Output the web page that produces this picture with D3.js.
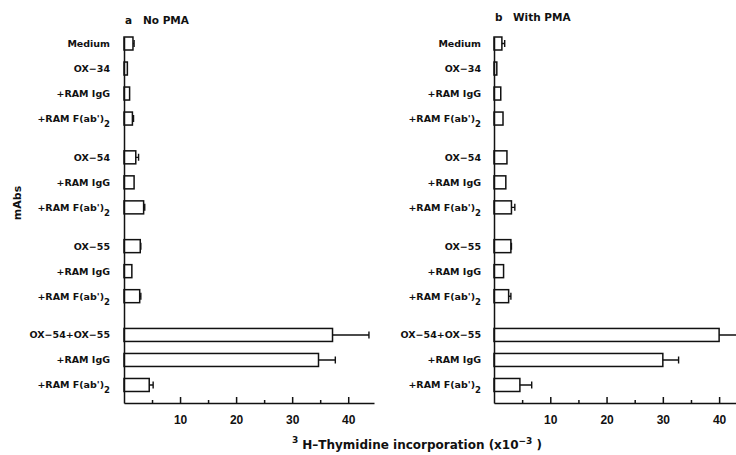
<!DOCTYPE html>
<head>
    <meta charset="utf-8">
    <title>3H-Thymidine incorporation</title>
    <style>
        body { margin: 0; background: #fff; }
        .lbl { font-family: "DejaVu Sans", sans-serif; font-weight: bold; font-size: 9.5px; fill: #111; }
        .tick text { font-family: "Liberation Sans", sans-serif; font-weight: bold; font-size: 12px; fill: #111; }
        .axis path, .axis line { stroke: #111; stroke-width: 1.5; }
        .bar { fill: #fff; stroke: #111; stroke-width: 1.5; }
        .err { stroke: #111; stroke-width: 1.4; fill: none; }
    </style>
</head>
<body>
<div id="chart"></div>

<script src="https://d3js.org/d3.v7.min.js"></script>
<script>

// row labels, "_2" marks a subscript
var labels = ["Medium", "OX\u221234", "+RAM IgG", "+RAM F(ab')_2",
              "OX\u221254", "+RAM IgG", "+RAM F(ab')_2",
              "OX\u221255", "+RAM IgG", "+RAM F(ab')_2",
              "OX\u221254+OX\u221255", "+RAM IgG", "+RAM F(ab')_2"];
var groupSizes = [4, 3, 3, 3];

// panel a, no PMA
var noPMA    = [1.6, 0.6, 1.0, 1.5, 2.1, 1.8, 3.5, 2.9, 1.4, 2.8, 37.2, 34.7, 4.5];
var noPMAErr = [0.2, 0,   0,   0.2, 0.5, 0,   0.2, 0.1, 0,   0.2, 6.5,  3.0,  0.7];

// panel b, with PMA
var withPMA    = [1.4, 0.5, 1.2, 1.6, 2.3, 2.1, 3.1, 3.0, 1.7, 2.6, 40.0, 30.0, 4.6];
var withPMAErr = [0.5, 0,   0,   0,   0,   0,   0.6, 0.1, 0,   0.4, 3.6,  2.8,  2.1];

var majorTicks = [10, 20, 30, 40];
var minorTicks = [5, 15, 25, 35];

var W = 736, H = 455;

var svg = d3.select("#chart").append("svg")
    .attr("width", W)
    .attr("height", H);

// slot position of each row: one row per label, extra gap between groups
var slots = [];
groupSizes.forEach(function(n, g) {
    for (var k = 0; k < n; k++) slots.push(slots.length + 0.55 * g);
});

var yScale = d3.scaleLinear().domain([-0.26, 14.37]).range([37, 403]);
var barH = 13;
var baseY = 403;

function drawPanel(opt) {
    var x = d3.scaleLinear().domain(opt.domain).range(opt.range);
    var g = svg.append("g");

    // title
    var t = g.append("text").attr("class", "lbl")
        .attr("y", opt.titleY).style("font-size", "10.5px");
    t.append("tspan").attr("x", opt.range[0] + 1).text(opt.letter);
    t.append("tspan").attr("x", opt.range[0] + opt.titleGap).text(opt.title);

    // bars
    g.selectAll("rect.bar").data(opt.values).enter().append("rect")
        .attr("class", "bar")
        .attr("x", x(0))
        .attr("y", function(d, i) { return yScale(slots[i]) - barH / 2; })
        .attr("width", function(d) { return x(d) - x(0); })
        .attr("height", barH);

    // error bars
    var errs = opt.values.map(function(v, i) { return {v: v, e: opt.errs[i], i: i}; })
        .filter(function(d) { return d.e > 0; });
    g.selectAll("path.err").data(errs).enter().append("path")
        .attr("class", "err")
        .attr("d", function(d) {
            var y0 = yScale(slots[d.i]), x0 = x(d.v), x1 = x(d.v + d.e);
            return "M" + x0 + "," + y0 + "H" + x1 + "M" + x1 + "," + (y0 - 3.5) + "V" + (y0 + 3.5);
        });

    // row labels
    var lab = g.selectAll("text.row").data(labels).enter().append("text")
        .attr("class", "lbl row")
        .attr("text-anchor", "end")
        .attr("x", opt.labelX)
        .attr("y", function(d, i) { return yScale(slots[i]) + 3.5; });
    lab.each(function(d) {
        var parts = d.split("_");
        var s = d3.select(this);
        s.append("tspan").text(parts[0]);
        if (parts[1]) s.append("tspan").attr("dy", 5).style("font-size", "8.5px").text(parts[1]);
    });

    // vertical axis line
    g.append("g").attr("class", "axis")
        .attr("transform", "translate(" + x(0) + ",0)")
        .call(d3.axisLeft(yScale).tickValues([]).tickSizeOuter(0));

    // bottom axis, ticks point inward
    g.append("g").attr("class", "axis")
        .attr("transform", "translate(0," + baseY + ")")
        .call(d3.axisBottom(x).tickValues(minorTicks).tickSize(-3).tickSizeOuter(0).tickFormat(""));
    g.append("g").attr("class", "axis")
        .attr("transform", "translate(0," + baseY + ")")
        .call(d3.axisBottom(x).tickValues(majorTicks).tickSize(-6).tickSizeOuter(0).tickPadding(12.5).tickFormat(d3.format("d")))
        .call(function(a) { a.select(".domain").remove(); });
}

drawPanel({
    domain: [0, 44.6], range: [124, 374],
    values: noPMA, errs: noPMAErr,
    letter: "a", title: "No PMA", titleGap: 19, titleY: 24,
    labelX: 110
});

drawPanel({
    domain: [0, 43], range: [494, 736],
    values: withPMA, errs: withPMAErr,
    letter: "b", title: "With PMA", titleGap: 19, titleY: 21,
    labelX: 481
});

// y title
svg.append("text").attr("class", "lbl")
    .style("font-size", "11px")
    .attr("transform", "translate(21,203) rotate(-90)")
    .attr("text-anchor", "middle")
    .text("mAbs");

// x title
var xt = svg.append("text").attr("class", "lbl")
    .style("font-size", "12px")
    .attr("x", 292).attr("y", 449);
xt.append("tspan").attr("dy", -6).style("font-size", "9px").text("3");
xt.append("tspan").attr("dx", 4).attr("dy", 6).text("H\u2013Thymidine incorporation (x10");
xt.append("tspan").attr("dy", -5).style("font-size", "9px").text("\u22123");
xt.append("tspan").attr("dy", 5).text(" )");

</script>
</body>
